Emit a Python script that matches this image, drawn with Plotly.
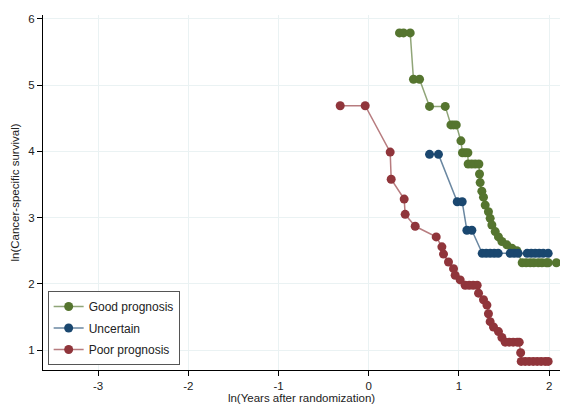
import plotly.graph_objects as go

# Good prognosis
good_x = [0.341, 0.386, 0.460, 0.496, 0.563, 0.674, 0.848, 0.911, 0.940, 0.970,
          1.022, 1.039, 1.069, 1.099, 1.102, 1.141, 1.180, 1.221, 1.228, 1.235,
          1.254, 1.272, 1.291, 1.327, 1.346, 1.365, 1.402, 1.438, 1.476, 1.531,
          1.587, 1.642, 1.701, 1.745, 1.790, 1.830, 1.880, 1.920, 1.970, 1.989, 2.080]
good_y = [5.79, 5.79, 5.79, 5.09, 5.09, 4.68, 4.68, 4.40, 4.40, 4.40,
          4.16, 3.98, 3.98, 3.98, 3.81, 3.81, 3.81, 3.81, 3.66, 3.53,
          3.40, 3.31, 3.19, 3.09, 2.99, 2.89, 2.79, 2.71, 2.64, 2.59,
          2.54, 2.50, 2.32, 2.32, 2.32, 2.32, 2.32, 2.32, 2.32, 2.32, 2.32]

# Uncertain
unc_x = [0.674, 0.773, 0.981, 1.036, 1.088, 1.143, 1.258, 1.302, 1.346, 1.391,
         1.435, 1.568, 1.612, 1.656, 1.756, 1.801, 1.845, 1.889, 1.934, 1.989]
unc_y = [3.956, 3.956, 3.24, 3.24, 2.81, 2.81, 2.461, 2.461, 2.461, 2.461,
         2.461, 2.461, 2.461, 2.461, 2.461, 2.461, 2.461, 2.461, 2.461, 2.461]

# Poor prognosis
poor_x = [-0.316, -0.039, 0.238, 0.249, 0.393, 0.404, 0.515, 0.748, 0.811, 0.829,
          0.884, 0.940, 0.958, 1.014, 1.069, 1.114, 1.158, 1.202, 1.217, 1.272,
          1.310, 1.327, 1.346, 1.383, 1.438, 1.476, 1.513, 1.557, 1.601, 1.645,
          1.668, 1.684, 1.690, 1.734, 1.778, 1.823, 1.867, 1.911, 1.956, 1.989]
poor_y = [4.69, 4.69, 3.99, 3.58, 3.28, 3.05, 2.87, 2.71, 2.56, 2.45,
          2.33, 2.23, 2.13, 2.06, 1.98, 1.98, 1.98, 1.98, 1.86, 1.76,
          1.68, 1.55, 1.43, 1.35, 1.28, 1.19, 1.12, 1.12, 1.12, 1.12,
          1.12, 0.96, 0.83, 0.83, 0.83, 0.83, 0.83, 0.83, 0.83, 0.83]

x_ticks = [-3, -2, -1, 0, 1, 2]
y_ticks = [1, 2, 3, 4, 5, 6]

series = [
    ("Good prognosis", good_x, good_y, (85, 117, 47)),
    ("Uncertain", unc_x, unc_y, (26, 71, 111)),
    ("Poor prognosis", poor_x, poor_y, (144, 53, 59)),
]

fig = go.Figure()
for name, xs, ys, (r, g, b) in series:
    fig.add_trace(go.Scatter(
        x=xs, y=ys, name=name, mode="lines+markers", legendgroup=name,
        line=dict(color=f"rgba({r},{g},{b},0.65)", width=1.5),
        marker=dict(color=f"rgb({r},{g},{b})", size=9, line=dict(width=0)),
    ))

font = "Liberation Sans, Arial, sans-serif"
fig.update_layout(
    width=561, height=407,
    margin=dict(l=43, r=1, t=15, b=37),
    paper_bgcolor="white", plot_bgcolor="white",
    font=dict(family=font, size=11, color="#222"),
    showlegend=True,
    legend=dict(
        x=0.009, y=0.014, xanchor="left", yanchor="bottom",
        bordercolor="#555", borderwidth=1, bgcolor="white",
        font=dict(family=font, size=12, color="#222"),
        tracegroupgap=2.5, itemwidth=30,
    ),
    xaxis=dict(
        range=[-3.61, 2.12], tickmode="array", tickvals=x_ticks,
        ticktext=[str(v) for v in x_ticks],
        showgrid=True, gridcolor="#eaf2f3", gridwidth=1, zeroline=False,
        showline=True, linecolor="black", linewidth=1,
        ticks="outside", ticklen=5, tickcolor="black",
        tickfont=dict(size=11.5, color="#222"),
        title=dict(text="ln(Years after randomization)", standoff=1,
                   font=dict(size=11.5, color="#222")),
        automargin=False,
    ),
    yaxis=dict(
        range=[0.7, 6.06], tickmode="array", tickvals=y_ticks,
        ticktext=[str(v) for v in y_ticks],
        showgrid=True, gridcolor="#eaf2f3", gridwidth=1, zeroline=False,
        showline=True, linecolor="black", linewidth=1,
        ticks="outside", ticklen=5, tickcolor="black",
        tickfont=dict(size=11.5, color="#222"),
        title=dict(text="ln(Cancer-specific survival)", standoff=6,
                   font=dict(size=11.5, color="#222")),
        automargin=False,
    ),
)

fig.write_html("out.html", config={"displayModeBar": False},
               post_script="document.body.style.margin='0';document.body.style.padding='0';")
